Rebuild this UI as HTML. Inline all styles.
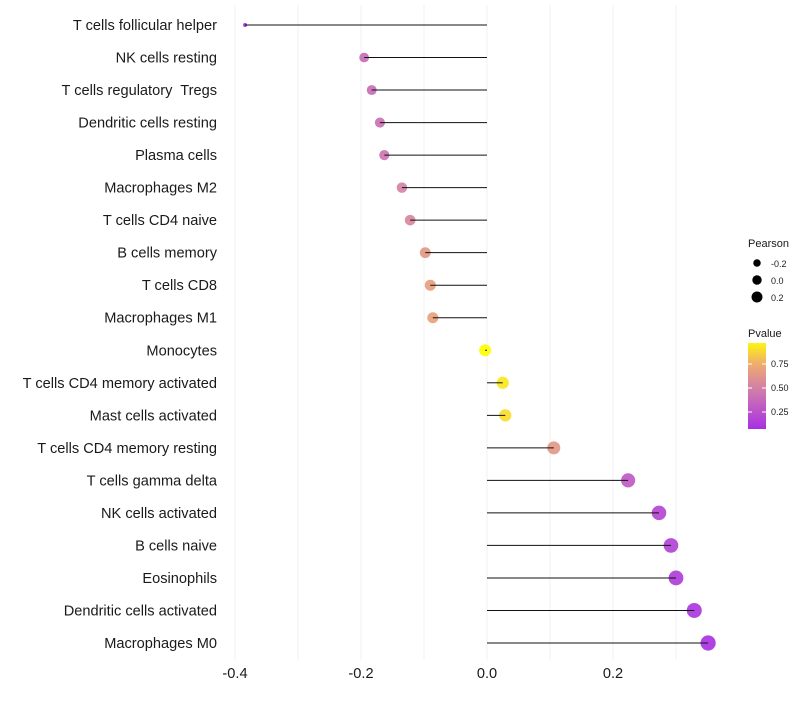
<!DOCTYPE html>
<html><head><meta charset="utf-8"><style>
body{margin:0;background:#fff;font-family:"Liberation Sans",sans-serif}
svg text{font-family:"Liberation Sans",sans-serif}
</style></head><body>
<svg id="c" width="800" height="700"></svg>
<script>
const categories=["T cells follicular helper","NK cells resting","T cells regulatory  Tregs","Dendritic cells resting","Plasma cells","Macrophages M2","T cells CD4 naive","B cells memory","T cells CD8","Macrophages M1","Monocytes","T cells CD4 memory activated","Mast cells activated","T cells CD4 memory resting","T cells gamma delta","NK cells activated","B cells naive","Eosinophils","Dendritic cells activated","Macrophages M0"];
const pearson=[-0.384,-0.195,-0.183,-0.170,-0.163,-0.135,-0.122,-0.098,-0.090,-0.086,-0.003,0.025,0.029,0.106,0.224,0.273,0.292,0.300,0.329,0.351];
const pvalue=[0.03,0.40,0.40,0.42,0.45,0.52,0.55,0.65,0.68,0.70,0.99,0.93,0.90,0.65,0.30,0.20,0.18,0.15,0.12,0.10];
const xTicks=[-0.4,-0.2,0.0,0.2];
const xTickLabels=["-0.4","-0.2","0.0","0.2"];
const xGrid=[-0.4,-0.3,-0.2,-0.1,0.0,0.1,0.2,0.3];
const legendSizes=[-0.2,0.0,0.2];
const legendP=[0.75,0.50,0.25];

const NS="http://www.w3.org/2000/svg";
const svg=document.getElementById('c');
function el(t,a,p){const e=document.createElementNS(NS,t);for(const k in a)e.setAttribute(k,a[k]);(p||svg).appendChild(e);return e;}
const x=v=>487+v*630;
const y=i=>25+i*(618/19);
const r=v=>Math.sqrt(Math.max(4,36+62*v-200*Math.max(0,-0.3-v)));
const rl=v=>Math.sqrt(Math.max(4,22+40*v));
const stops=[[0,[160,32,240]],[0.5,[210,128,168]],[0.75,[238,170,112]],[1,[255,255,0]]];
function col(p){for(let i=1;i<stops.length;i++){if(p<=stops[i][0]){const a=stops[i-1],b=stops[i];const t=(p-a[0])/(b[0]-a[0]);const c=a[1].map((v,j)=>Math.round(v+(b[1][j]-v)*t));return `rgb(${c})`;}}return 'rgb(255,255,0)';}

xGrid.forEach(v=>{const g=el('line',{x1:x(v),x2:x(v),y1:5,y2:660,stroke:'#f2f2f2','stroke-width':1});

});

categories.forEach((c,i)=>{
 const t=el('text',{x:217,y:y(i)+5,'text-anchor':'end','font-size':14.6,fill:'#1a1a1a'});t.style.whiteSpace='pre';t.textContent=c;
 
 
 const d=el('circle',{cx:x(pearson[i]),cy:y(i),r:r(pearson[i]),fill:col(pvalue[i]),'fill-opacity':0.92});
 
 
 const l=el('line',{x1:x(0),x2:x(pearson[i]),y1:y(i),y2:y(i),stroke:'#111','stroke-width':1});
 
 
});
xTicks.forEach((v,i)=>{const t=el('text',{x:x(v),y:678,'text-anchor':'middle','font-size':14.6,fill:'#1a1a1a'});t.textContent=xTickLabels[i];
 
 });

const lg=el('g',{});


let t=el('text',{x:748,y:247,'font-size':11,fill:'#1a1a1a'},lg);t.textContent='Pearson';
legendSizes.forEach((v,i)=>{el('circle',{cx:757,cy:263+i*17,r:rl(v),fill:'#000'},lg);
 const tt=el('text',{x:771,y:267+i*17,'font-size':9,fill:'#1a1a1a'},lg);tt.textContent=(v===0?'0.0':String(v));});
t=el('text',{x:748,y:337,'font-size':11,fill:'#1a1a1a'},lg);t.textContent='Pvalue';
const defs=el('defs',{});const gr=el('linearGradient',{id:'pg',x1:0,y1:1,x2:0,y2:0},defs);
const pmin=0.08,pmax=0.97;
for(let k=0;k<=10;k++){const p=pmin+(pmax-pmin)*k/10;el('stop',{offset:k/10,'stop-color':col(p)},gr);}
el('rect',{x:748,y:343,width:18,height:86,fill:'url(#pg)'},lg);
const py=p=>436-p*96;
legendP.forEach(p=>{el('line',{x1:748,x2:752,y1:py(p),y2:py(p),stroke:'#fff'},lg);el('line',{x1:762,x2:766,y1:py(p),y2:py(p),stroke:'#fff'},lg);
 const tt=el('text',{x:771,y:py(p)+3,'font-size':9,fill:'#1a1a1a'},lg);tt.textContent=p.toFixed(2);});
</script>
</body></html>
